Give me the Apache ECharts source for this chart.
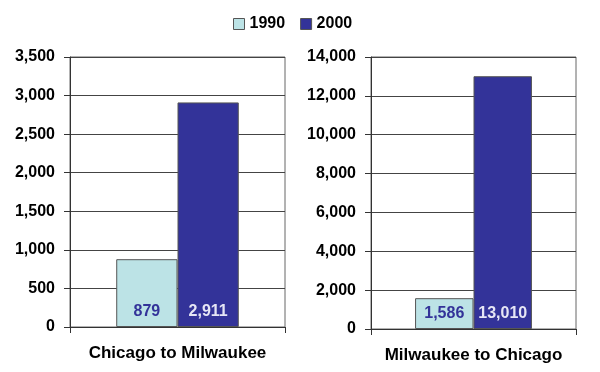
<!DOCTYPE html>
<html><head><meta charset="utf-8">
<script src="https://cdn.jsdelivr.net/npm/echarts@6/dist/echarts.min.js"></script>
<style>html,body{margin:0;padding:0;background:#fff}#c{width:600px;height:372px}</style>
</head><body><div id="c"></div>
<script>
const years = ['1990', '2000'];
const leftCategory = ['Chicago to Milwaukee'];
const rightCategory = ['Milwaukee to Chicago'];
const left1990 = [879];
const left2000 = [2911];
const right1990 = [1586];
const right2000 = [13010];
const leftTicks = {min: 0, max: 3500, interval: 500};
const rightTicks = {min: 0, max: 14000, interval: 2000};

const FONT = '"Liberation Sans", Arial, sans-serif';
const C1 = '#BCE3E6', C2 = '#333399';
const fmt = v => Number(v).toLocaleString('en-US');

const chart = echarts.init(document.getElementById('c'), null, {renderer: 'canvas'});

function yAx(idx, t) {
  return {
    type: 'value', gridIndex: idx, min: t.min, max: t.max, interval: t.interval,
    axisLine: {show: true, lineStyle: {color: '#333', width: 1}},
    axisTick: {show: true, length: 6, lineStyle: {color: '#333'}},
    splitLine: {show: true, lineStyle: {color: '#444', width: 1}},
    axisLabel: {color: '#000', fontFamily: FONT, fontWeight: 'bold', fontSize: 16, margin: 15,
      formatter: fmt}
  };
}
function xAx(idx, cats, margin) {
  return {
    type: 'category', gridIndex: idx, data: cats,
    axisLine: {show: true, lineStyle: {color: '#333', width: 1}},
    axisTick: {show: true, length: 6, lineStyle: {color: '#333'}},
    axisLabel: {color: '#000', fontFamily: FONT, fontWeight: 'bold', fontSize: 17, margin: margin}
  };
}
function lbl(color) {
  return {show: true, position: 'insideBottom', distance: 7, color: color,
    fontFamily: FONT, fontWeight: 'bold', fontSize: 16, formatter: p => fmt(p.value)};
}
function bar(name, data, xi, color, lc) {
  return {name: name, type: 'bar', xAxisIndex: xi, yAxisIndex: xi, data: data,
    barGap: '0%', barCategoryGap: '43%',
    itemStyle: {color: color, borderColor: '#555', borderWidth: 1},
    label: lbl(lc), emphasis: {disabled: true}};
}

chart.setOption({
  animation: false,
  legend: {
    data: years, top: 11, left: 228, itemWidth: 11, itemHeight: 11, itemGap: 15,
    icon: 'rect',
    textStyle: {fontFamily: FONT, fontWeight: 'bold', fontSize: 16, color: '#000'},
    itemStyle: {borderColor: '#555', borderWidth: 1}
  },
  grid: [
    {left: 70, top: 57, width: 215, height: 270, show: true, borderColor: '#666', borderWidth: 1},
    {left: 371, top: 57, width: 205, height: 272, show: true, borderColor: '#666', borderWidth: 1}
  ],
  xAxis: [xAx(0, leftCategory, 18), xAx(1, rightCategory, 18)],
  yAxis: [yAx(0, leftTicks), yAx(1, rightTicks)],
  series: [
    bar(years[0], left1990, 0, C1, '#333399'),
    bar(years[1], left2000, 0, C2, '#E6E6F5'),
    bar(years[0], right1990, 1, C1, '#333399'),
    bar(years[1], right2000, 1, C2, '#E6E6F5')
  ]
});
</script></body></html>
